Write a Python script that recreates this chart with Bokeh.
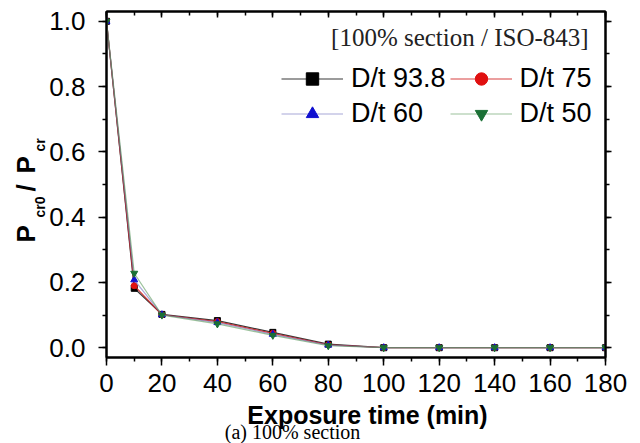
import math
from bokeh.plotting import figure
from bokeh.layouts import column, row
from bokeh.models import (Range1d, LinearAxis, SingleIntervalTicker, PrintfTickFormatter,
                          CustomJSTickFormatter, Label, Legend, LegendItem, ColumnDataSource)
from bokeh.embed import file_html
from bokeh.resources import INLINE

# ---------------- data ----------------
time_min = [0, 10, 20, 40, 60, 80, 100, 120, 140, 160, 180]
dt_93_8 = [1.0, 0.182, 0.102, 0.083, 0.047, 0.011, 0.0, 0.0, 0.0, 0.0, 0.0]
dt_75 = [1.0, 0.190, 0.101, 0.080, 0.044, 0.009, 0.0, 0.0, 0.0, 0.0, 0.0]
dt_60 = [1.0, 0.208, 0.101, 0.077, 0.041, 0.008, 0.0, 0.0, 0.0, 0.0, 0.0]
dt_50 = [1.0, 0.228, 0.100, 0.073, 0.038, 0.006, 0.0, 0.0, 0.0, 0.0, 0.0]
series_names = ["D/t 93.8", "D/t 75", "D/t 60", "D/t 50"]
x_title = "Exposure time (min)"
caption = "(a) 100% section"
note = "[100% section / ISO-843]"

# ---------------- layout constants ----------------
YL_W = 46                      # strip holding the y title
MAIN_W, MAIN_H = 640 - YL_W, 400
CAP_H = 43                     # strip holding x title + caption
FL, FT, FW, FH = 105 - YL_W, 11, 500, 346   # plot frame inside the main chart
X0, X1 = 0, 180
Y0, Y1 = -0.03, 1.03
SANS = "Liberation Sans"
SERIF = "Liberation Serif"


def plain_fig(w, h, y_lo, y_hi):
    f = figure(width=w, height=h, x_range=Range1d(0, w), y_range=Range1d(y_lo, y_hi),
               x_axis_type=None, y_axis_type=None, min_border=0,
               output_backend="svg", toolbar_location=None)
    f.outline_line_color = None
    f.xgrid.visible = False
    f.ygrid.visible = False
    f.background_fill_color = "white"
    f.border_fill_color = "white"
    return f


# ---------------- main chart ----------------
p = figure(width=MAIN_W, height=MAIN_H, x_range=Range1d(X0, X1), y_range=Range1d(Y0, Y1),
           output_backend="svg", toolbar_location=None,
           min_border_left=FL, min_border_right=MAIN_W - FL - FW,
           min_border_top=FT, min_border_bottom=MAIN_H - FT - FH)
p.xgrid.visible = False
p.ygrid.visible = False
p.outline_line_color = "black"
p.outline_line_width = 2
p.background_fill_color = "white"
p.border_fill_color = "white"

for ax in p.xaxis:
    ax.ticker = SingleIntervalTicker(interval=20, num_minor_ticks=2)
    ax.major_label_standoff = 8
for ax in p.yaxis:
    ax.ticker = SingleIntervalTicker(interval=0.2, num_minor_ticks=2)
    ax.formatter = PrintfTickFormatter(format="%.1f")
    ax.major_label_standoff = 13
for ax in list(p.xaxis) + list(p.yaxis):
    ax.axis_line_width = 2
    ax.major_tick_in = 0
    ax.major_tick_out = 8
    ax.minor_tick_in = 0
    ax.minor_tick_out = 4
    ax.major_tick_line_width = 1.5
    ax.minor_tick_line_width = 1.5
    ax.major_label_text_font = SANS
    ax.major_label_text_font_size = "26px"
    ax.major_label_text_color = "black"

empty = CustomJSTickFormatter(code="return ''")
top = LinearAxis(ticker=SingleIntervalTicker(interval=20, num_minor_ticks=2), formatter=empty,
                 major_tick_in=6, major_tick_out=0, minor_tick_in=4, minor_tick_out=0,
                 axis_line_width=2, major_label_standoff=0, major_tick_line_width=1.5,
                 minor_tick_line_width=1.5, major_label_text_font_size="1px")
right = LinearAxis(ticker=SingleIntervalTicker(interval=0.2, num_minor_ticks=2), formatter=empty,
                   major_tick_in=0, major_tick_out=6, minor_tick_in=0, minor_tick_out=4,
                   axis_line_width=2, major_label_standoff=0, major_tick_line_width=1.5,
                   minor_tick_line_width=1.5, major_label_text_font_size="1px")
p.add_layout(top, "above")
p.add_layout(right, "right")

styles = [
    (dt_93_8, "black", "#222222", 0.9, "square", 6),
    (dt_75, "#e01010", "#d02020", 0.85, "circle", 6),
    (dt_60, "#1010d0", "#7070c0", 0.6, "triangle", 7),
    (dt_50, "#1a7035", "#5a9a5a", 0.6, "inverted_triangle", 7),
]
items = []
for name, (vals, mcol, lcol, lalpha, marker, msize) in zip(series_names, styles):
    src = ColumnDataSource(dict(x=time_min, y=vals))
    lr = p.line("x", "y", source=src, line_color=lcol, line_alpha=lalpha, line_width=1.2)
    sr = p.scatter("x", "y", source=src, marker=marker, size=msize,
                   fill_color=mcol, line_color=mcol)
    items.append(LegendItem(label=name, renderers=[lr, sr]))

legend = Legend(items=items, location=(175, 228), orientation="horizontal", ncols=2,
                glyph_width=62, glyph_height=31, label_height=31, label_standoff=8,
                spacing=4, padding=0, margin=0, border_line_color=None,
                background_fill_alpha=0, label_text_font=SANS,
                label_text_font_size="27px", label_text_color="black")
p.add_layout(legend, "center")

p.add_layout(Label(x=X0 + (330 - YL_W - FL) / FW * (X1 - X0),
                   y=Y1 - (37 - FT) / FH * (Y1 - Y0), text=note,
                   text_font=SERIF, text_font_size="25px", text_color="#222222",
                   text_align="left", text_baseline="middle"))

# ---------------- y title strip (its frame lines up with the main frame) ----------------
yf = plain_fig(YL_W, MAIN_H, MAIN_H - FT - FH, MAIN_H - FT)
ylab = [("P", 25, 242, "26px"), ("cr0", 39, 217, "14px"), ("/", 25, 191, "26px"),
        ("P", 25, 173, "26px"), ("cr", 39, 151, "14px")]
for txt, mx, sy, fs in ylab:
    yf.add_layout(Label(x=mx, y=MAIN_H - sy, text=txt, angle=math.pi / 2,
                        text_font=SANS, text_font_style="bold", text_font_size=fs,
                        text_color="black", text_align="left", text_baseline="middle"))

# ---------------- x title + caption strip ----------------
cf = plain_fig(YL_W + MAIN_W, CAP_H, 0, CAP_H)
cf.add_layout(Label(x=367, y=CAP_H - 0.5, text=x_title,
                    text_font=SANS, text_font_style="bold", text_font_size="25px",
                    text_color="black", text_align="center", text_baseline="top"))
cf.add_layout(Label(x=292, y=0.5, text=caption,
                    text_font=SERIF, text_font_size="20px", text_color="black",
                    text_align="center", text_baseline="bottom"))

layout = column(row(yf, p, spacing=0), cf, spacing=0)
open("out.html", "w").write(file_html(layout, INLINE))
